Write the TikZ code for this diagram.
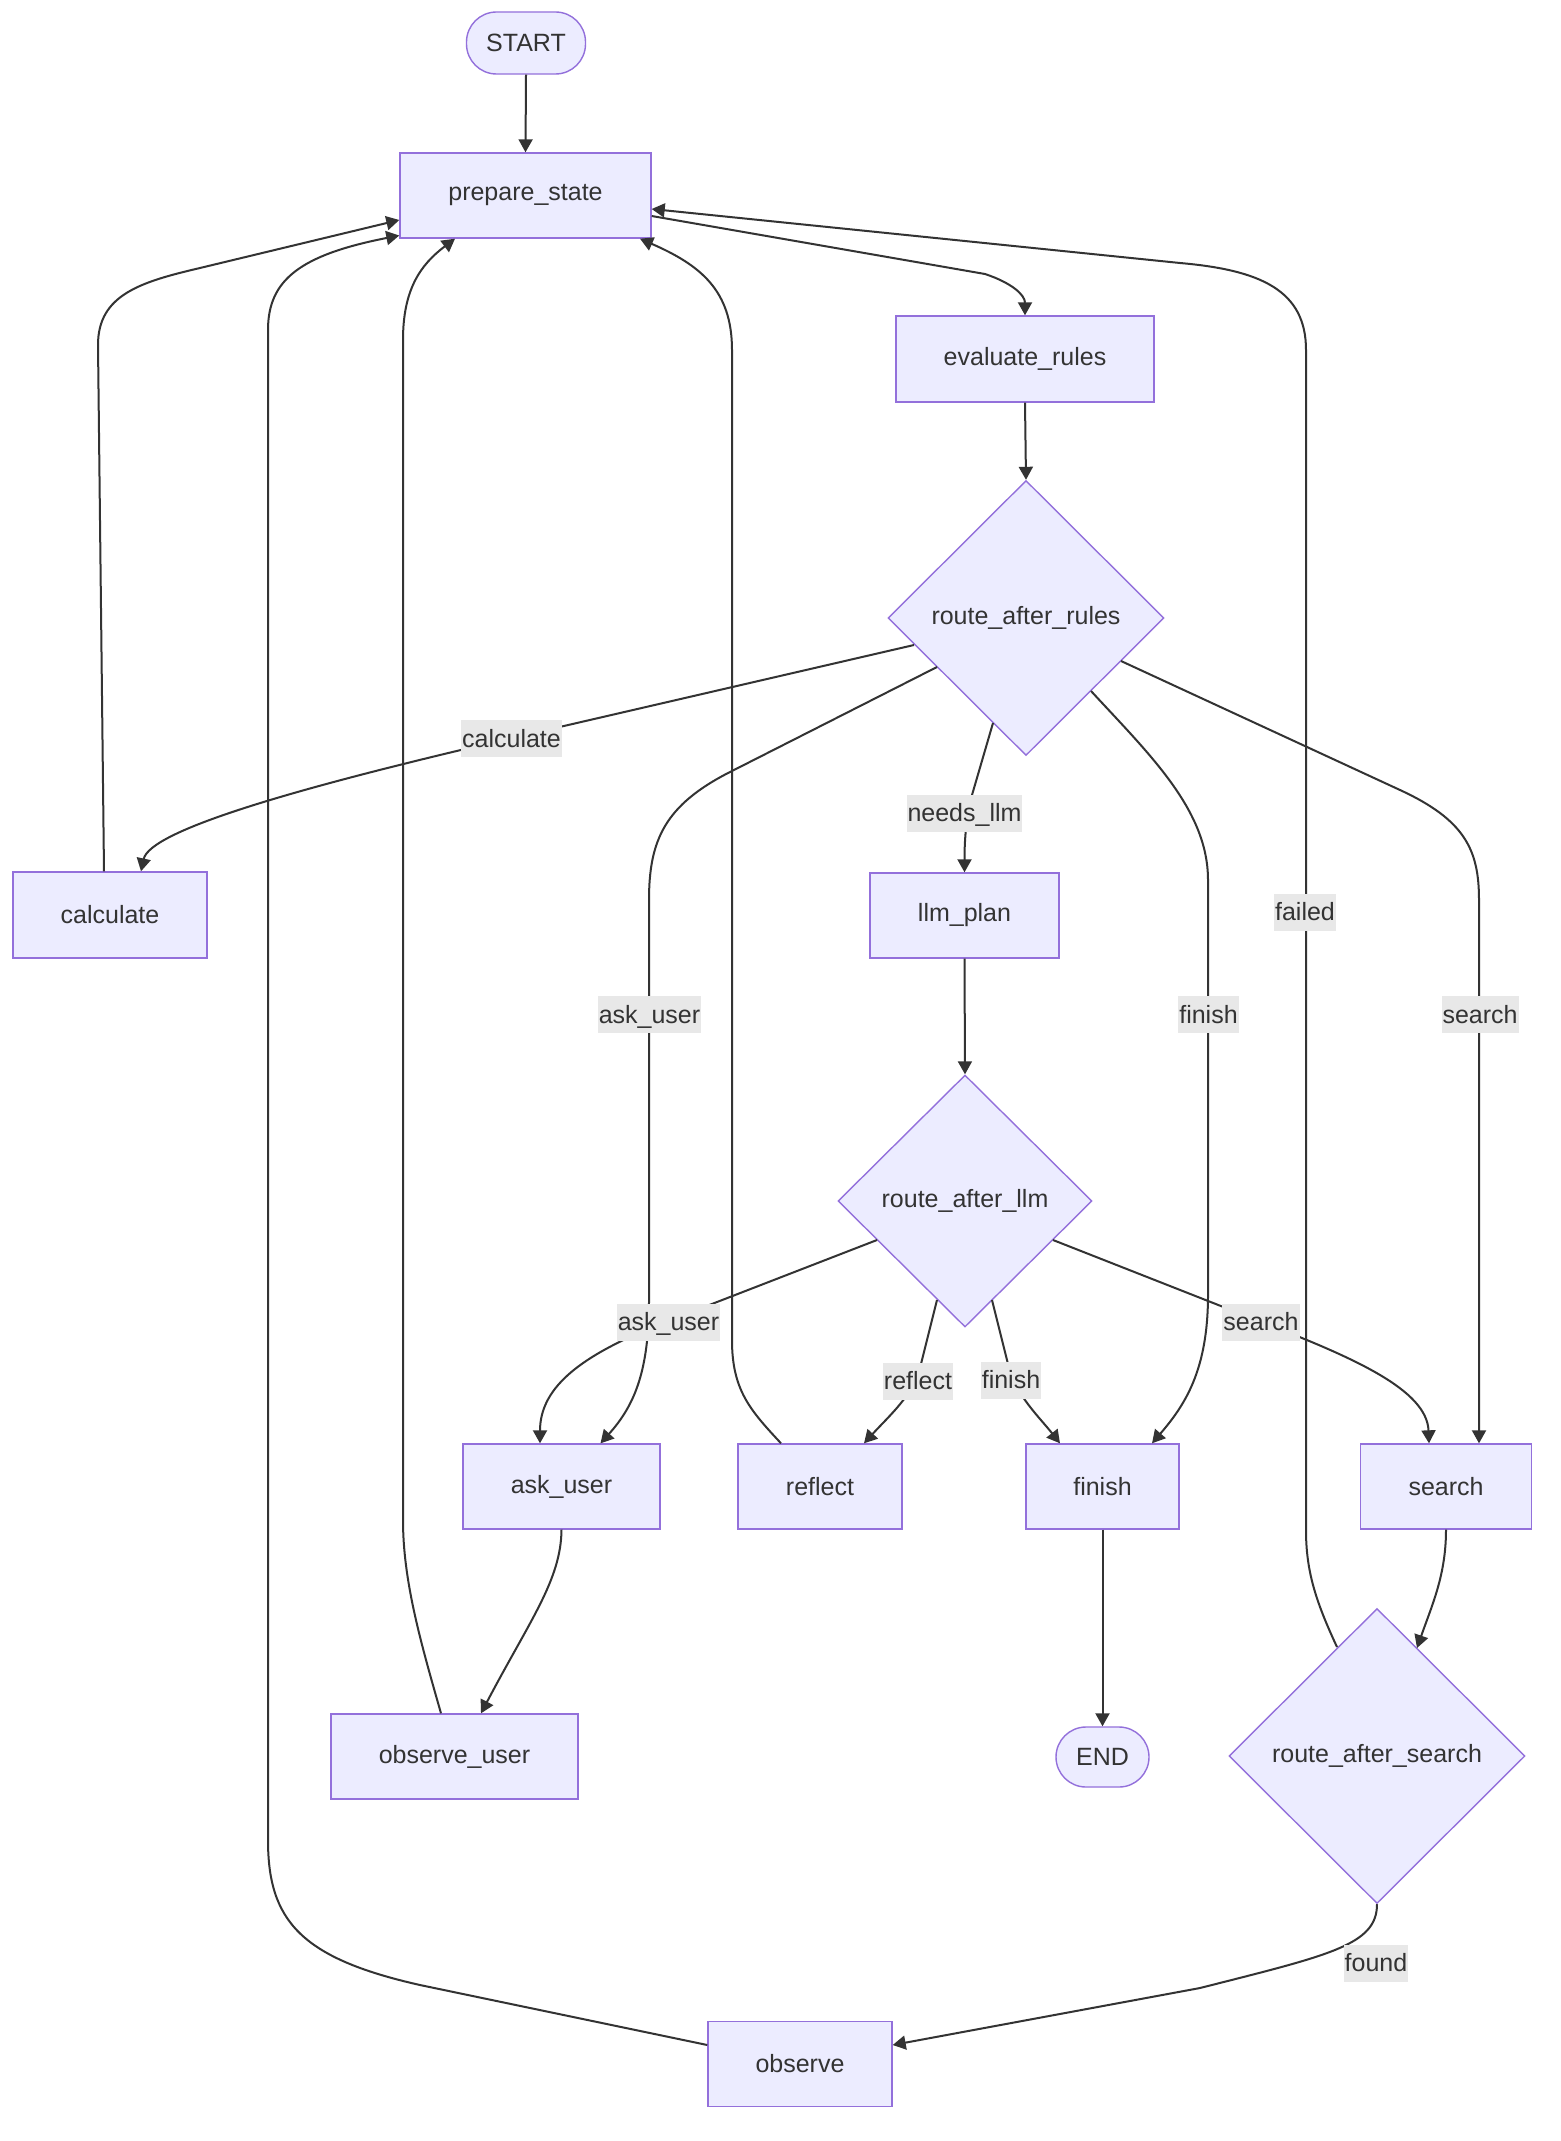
\documentclass[tikz,border=0pt]{standalone}
\usepackage{fontspec}
\setmainfont{Liberation Sans}
\usetikzlibrary{shapes.geometric,arrows.meta,calc}
\definecolor{nodefill}{HTML}{ECECFF}
\definecolor{nodeline}{HTML}{9370DB}
\definecolor{edgec}{HTML}{333333}
\definecolor{lblbg}{HTML}{E8E8E8}
\definecolor{txt}{HTML}{333333}
\begin{document}
\begin{tikzpicture}[x=0.5pt,y=-0.5pt,
  font=\fontsize{12.5}{15}\selectfont, text=txt,
  box/.style={draw=nodeline,fill=nodefill,line width=0.7pt,inner sep=0pt,minimum height=42.5pt},
  term/.style={box,rounded corners=15pt,minimum height=31pt},
  dec/.style={draw=nodeline,fill=nodefill,line width=0.7pt,diamond,inner sep=0pt},
  conn/.style={draw=edgec,line width=1pt,-{Triangle[length=6.5pt,width=7pt]}},
  lbl/.style={fill=lblbg,inner xsep=0.5pt,inner ysep=1.5pt,text height=12pt,text depth=3.5pt}
]
\fill[white] (0,0) rectangle (1560,2141);
\useasboundingbox (0,0) rectangle (1560,2141);

% nodes
\node[term,minimum width=59.5pt] (start) at (526,43) {START};
\node[box,minimum width=125.5pt] (prep) at (525.5,195.5) {prepare\_state};
\node[box,minimum width=129pt,minimum height=43pt] (eval) at (1025,359) {evaluate\_rules};
\node[dec,minimum width=138pt,minimum height=137.5pt] (rar) at (1026,618) {route\_after\_rules};
\node[box,minimum width=97pt,minimum height=43pt] (calc) at (110,915) {calculate};
\node[box,minimum width=94.5pt] (llm) at (964.5,915.5) {llm\_plan};
\node[dec,minimum width=127pt,minimum height=126pt] (ral) at (965,1201) {route\_after\_llm};
\node[box,minimum width=98.5pt] (ask) at (561.5,1486.5) {ask\_user};
\node[box,minimum width=82pt] (refl) at (820,1486.5) {reflect};
\node[box,minimum width=76.5pt] (fin) at (1102.5,1486.5) {finish};
\node[box,minimum width=85.5pt] (search) at (1446,1486.5) {search};
\node[box,minimum width=123.5pt] (obsu) at (454.5,1756.5) {observe\_user};
\node[term,minimum width=46.5pt,minimum height=30pt] (endn) at (1102.5,1757) {END};
\node[dec,minimum width=148pt,minimum height=147.5pt] (ras) at (1377,1756) {route\_after\_search};
\node[box,minimum width=92pt] (obs) at (800,2064) {observe};

% connectors
\draw[conn] (start.south) -- (prep.north);
\draw[conn] ($(prep.east)+(0,20.5)$) -- (985,274) .. controls (1012,283) and (1025,295) .. (eval.north);
\draw[conn] (eval.south) -- (rar.north);
\draw[conn] ($(rar.center)+(-112,27)$) -- (512,738) .. controls (300,787) and (150,830) .. ($(calc.north)+(31,0)$);
\draw[conn] ($(rar.center)+(-89,49)$) -- (730,772) .. controls (665,805) and (649,840) .. (649,900) -- (649,1300) .. controls (649,1370) and (635,1405) .. ($(ask.north)+(39,0)$);
\draw[conn] ($(rar.center)+(-33,105)$) -- (972,795) .. controls (966,818) and (964.5,840) .. (llm.north);
\draw[conn] ($(rar.center)+(65,73)$) .. controls (1150,755) and (1208,810) .. (1208,880) -- (1208,1295) .. controls (1208,1370) and (1185,1405) .. ($(fin.north)+(49.5,0)$);
\draw[conn] ($(rar.center)+(95,43)$) -- (1400,790) .. controls (1465,820) and (1479,850) .. (1479,900) -- ($(search.north)+(33,0)$);
\draw[conn] (llm.south) -- (ral.north);
\draw[conn] ($(ral.center)+(-88,39)$) -- (668,1321) .. controls (585,1353) and (540,1385) .. ($(ask.north)+(-21.5,0)$);
\draw[conn] ($(ral.center)+(-28,99)$) -- (920,1368) .. controls (913,1395) and (890,1415) .. ($(refl.north)+(44,0)$);
\draw[conn] ($(ral.center)+(27,99)$) -- (1009,1368) .. controls (1016,1395) and (1040,1418) .. ($(fin.north)+(-42.5,0)$);
\draw[conn] ($(ral.center)+(88,39)$) -- (1259,1321) .. controls (1355,1358) and (1427,1390) .. ($(search.north)+(-17,0)$);
\draw[conn] ($(calc.north)+(-6,0)$) -- (98,345) .. controls (98,295) and (140,282) .. (200,268) -- ($(prep.west)+(0,24.5)$);
\draw[conn] ($(refl.north)+(-39,0)$) .. controls (750,1410) and (732,1390) .. (732,1340) -- (732,350) .. controls (732,290) and (700,265) .. ($(prep.south)+(114.5,0)$);
\draw[conn] ($(obsu.north)+(-13.5,0)$) .. controls (420,1640) and (403,1580) .. (403,1520) -- (403,340) .. controls (403,290) and (420,265) .. ($(prep.south)+(-70.5,0)$);
\draw[conn] ($(obs.west)+(0,-19)$) -- (420,1985) .. controls (300,1958) and (268,1920) .. (268,1840) -- (268,330) .. controls (268,280) and (300,255) .. ($(prep.west)+(0,40)$);
\draw[conn] ($(ras.center)+(-40,-109)$) .. controls (1315,1600) and (1306,1570) .. (1306,1530) -- (1306,350) .. controls (1306,290) and (1260,270) .. (1180,263) -- ($(prep.east)+(0,13.5)$);
\draw[conn] (ras.south) .. controls (1377,1945) and (1330,1955) .. (1200,1988) -- ($(obs.east)+(0,-19)$);
\draw[conn] (ask.south) .. controls (561,1580) and (530,1620) .. ($(obsu.north)+(26.5,0)$);
\draw[conn] (search.south) .. controls (1446,1575) and (1432,1605) .. ($(ras.center)+(40,-108)$);
\draw[conn] (fin.south) -- (endn.north);

% labels
\node[lbl] (lcalc) at (511.5,738.5) {calculate};
\node[lbl] (lneeds) at (964.5,813) {needs\_llm};
\node[lbl] (lask1) at (649.5,1014.5) {ask\_user};
\node[lbl] (lfin1) at (1208.5,1014.5) {finish};
\node[lbl] (lsea1) at (1480,1014.5) {search};
\node[lbl] (lfail) at (1305,912) {failed};
\node[lbl] (lask2) at (668.5,1322) {ask\_user};
\node[lbl] (lrefl) at (918,1381) {reflect};
\node[lbl] (lfin2) at (1011,1380) {finish};
\node[lbl] (lsea2) at (1261,1322) {search};
\node[lbl] (lfound) at (1376,1963) {found};
\end{tikzpicture}
\end{document}
